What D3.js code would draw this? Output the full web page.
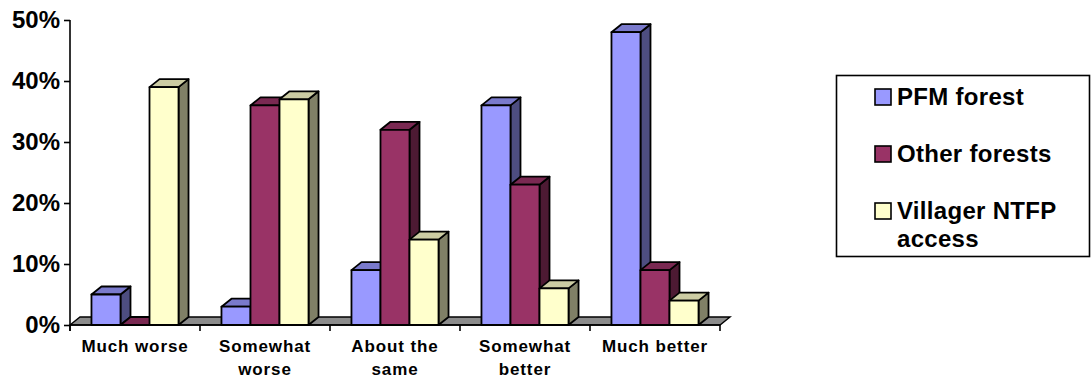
<!DOCTYPE html>
<html>
<head>
<meta charset="utf-8">
<script src="https://cdn.jsdelivr.net/npm/d3@7"></script>
<style>
  body { margin: 0; background: #fff; }
  text { font-family: Arial, "Liberation Sans", sans-serif; font-weight: bold; fill: #000; }
</style>
</head>
<body>
<div id="chart"></div>
<script>
// data
const categories = [["Much worse"], ["Somewhat", "worse"], ["About the", "same"], ["Somewhat", "better"], ["Much better"]];
const seriesNames = ["PFM forest", "Other forests", "Villager NTFP access"];
const pfmForest = [0.05, 0.03, 0.09, 0.36, 0.48];
const otherForests = [0.00, 0.36, 0.32, 0.23, 0.09];
const villagerNtfp = [0.39, 0.37, 0.14, 0.06, 0.04];
const yTicks = [0, 0.1, 0.2, 0.3, 0.4, 0.5];

const W = 1091, H = 378;
const depth = { dx: 10, dy: -8 };

const svg = d3.select("#chart").append("svg")
  .attr("width", W).attr("height", H);

const catKeys = categories.map(c => c.join(" "));
const x = d3.scaleBand().domain(catKeys).range([70, 720]).padding(0);
const xSub = d3.scaleBand().domain(seriesNames).range([0, x.bandwidth()])
  .paddingInner(0).paddingOuter(0.74);
const y = d3.scaleLinear().domain([0, 0.5]).range([325, 20]);

const color = d3.scaleOrdinal().domain(seriesNames)
  .range([
    { front: "#9999FF", top: "#7A7ACC", side: "#4D4D80" },
    { front: "#993366", top: "#7A2952", side: "#4D1A33" },
    { front: "#FFFFCC", top: "#CCCCA3", side: "#808066" }
  ]);

// floor
const x0 = x.range()[0], x1 = x.range()[1], y0 = y(0);
svg.append("path")
  .attr("d", `M${x0},${y0}L${x1},${y0}L${x1 + depth.dx},${y0 + depth.dy}L${x0 + depth.dx},${y0 + depth.dy}Z`)
  .attr("fill", "#8C8C8C")
  .attr("stroke", "#000")
  .attr("stroke-width", 1.4);

// bars
const rows = [];
catKeys.forEach((c, i) => {
  rows.push({ cat: c, key: seriesNames[0], value: pfmForest[i] });
  rows.push({ cat: c, key: seriesNames[1], value: otherForests[i] });
  rows.push({ cat: c, key: seriesNames[2], value: villagerNtfp[i] });
});

const bars = svg.append("g").selectAll("g")
  .data(rows)
  .join("g")
  .attr("stroke", "#000")
  .attr("stroke-width", 1.8)
  .attr("stroke-linejoin", "round");

bars.each(function (d) {
  const g = d3.select(this);
  const bx = x(d.cat) + xSub(d.key), bw = xSub.bandwidth();
  const top = y(d.value), bot = y(0);
  const c = color(d.key);
  const { dx, dy } = depth;
  // side
  g.append("path")
    .attr("d", `M${bx + bw},${bot}L${bx + bw + dx},${bot + dy}L${bx + bw + dx},${top + dy}L${bx + bw},${top}Z`)
    .attr("fill", c.side);
  // top
  g.append("path")
    .attr("d", `M${bx},${top}L${bx + dx},${top + dy}L${bx + bw + dx},${top + dy}L${bx + bw},${top}Z`)
    .attr("fill", c.top);
  // front
  if (bot - top > 0) {
    g.append("rect")
      .attr("x", bx).attr("y", top)
      .attr("width", bw).attr("height", bot - top)
      .attr("fill", c.front);
  }
});

// y axis
const yAxis = svg.append("g")
  .attr("transform", "translate(70,0)")
  .call(d3.axisLeft(y).tickValues(yTicks).tickFormat(d3.format(".0%")).tickSize(6).tickSizeOuter(0).tickPadding(4));
yAxis.select(".domain").attr("stroke", "#000").attr("stroke-width", 1.6)
  .attr("d", `M0,${y(0.5)}V331`);
yAxis.selectAll(".tick line").attr("stroke", "#000").attr("stroke-width", 1.6);
yAxis.selectAll(".tick text")
  .style("font-size", "24px")
  .attr("fill", "#000");

// x axis
const xAxis = svg.append("g")
  .attr("transform", `translate(0,${y(0)})`);
xAxis.append("line")
  .attr("x1", x0).attr("x2", x1)
  .attr("stroke", "#000").attr("stroke-width", 1.6);
xAxis.selectAll("line.tick")
  .data(d3.range(catKeys.length + 1))
  .join("line")
  .attr("class", "tick")
  .attr("x1", i => x0 + i * x.step()).attr("x2", i => x0 + i * x.step())
  .attr("y1", 0).attr("y2", 6)
  .attr("stroke", "#000").attr("stroke-width", 1.6);

const labels = svg.append("g").selectAll("text")
  .data(categories)
  .join("text")
  .attr("text-anchor", "middle")
  .style("font-size", "17px")
  .style("letter-spacing", "0.9px");
labels.selectAll("tspan")
  .data((d, i) => d.map(t => ({ t, cx: x(catKeys[i]) + x.bandwidth() / 2 })))
  .join("tspan")
  .attr("x", d => d.cx)
  .attr("y", (d, j) => 352 + j * 23)
  .text(d => d.t);

// legend
const legend = svg.append("g");
legend.append("rect")
  .attr("x", 836.5).attr("y", 75.5)
  .attr("width", 253).attr("height", 181)
  .attr("fill", "#fff")
  .attr("stroke", "#000")
  .attr("stroke-width", 1.6);

const legendLines = [["PFM forest"], ["Other forests"], ["Villager NTFP", "access"]];
const legendY = [97, 154, 211];
const items = legend.selectAll("g.item")
  .data(seriesNames)
  .join("g")
  .attr("class", "item")
  .attr("transform", (d, i) => `translate(0,${legendY[i]})`);
items.append("rect")
  .attr("x", 875).attr("y", -8)
  .attr("width", 16).attr("height", 16)
  .attr("fill", d => color(d).front)
  .attr("stroke", "#000")
  .attr("stroke-width", 1.6);
items.append("text")
  .style("font-size", "24px")
  .style("letter-spacing", "0.3px")
  .selectAll("tspan")
  .data((d, i) => legendLines[i])
  .join("tspan")
  .attr("x", 897)
  .attr("y", (t, j) => 8 + j * 28)
  .text(t => t);
</script>
</body>
</html>
